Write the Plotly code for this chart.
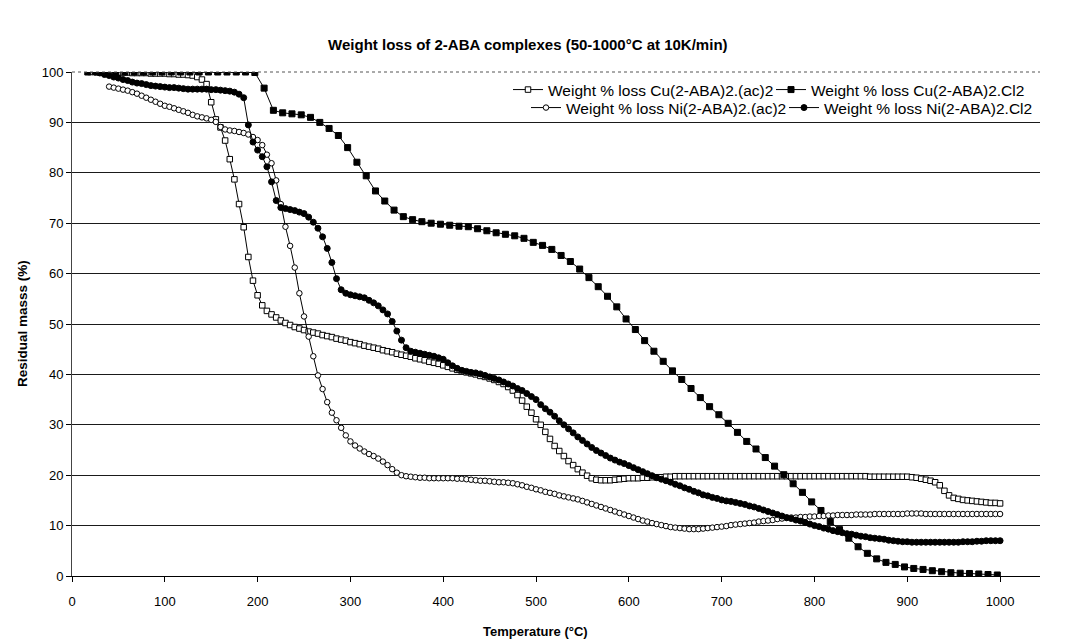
import plotly.graph_objects as go

# Thermogravimetric residual mass (%) of four 2-ABA complexes vs temperature (°C)

cu_ac_T = [
    20, 25, 30, 35, 40, 45, 50, 55, 60, 65,
    70, 75, 80, 85, 90, 95, 100, 105, 110, 115,
    120, 125, 130, 135, 140, 145, 150, 155, 160, 165,
    170, 175, 180, 185, 190, 195, 200, 205, 210, 215,
    220, 225, 230, 235, 240, 245, 250, 255, 260, 265,
    270, 275, 280, 285, 290, 295, 300, 305, 310, 315,
    320, 325, 330, 335, 340, 345, 350, 355, 360, 365,
    370, 375, 380, 385, 390, 395, 400, 405, 410, 415,
    420, 425, 430, 435, 440, 445, 450, 455, 460, 465,
    470, 475, 480, 485, 490, 495, 500, 505, 510, 515,
    520, 525, 530, 535, 540, 545, 550, 555, 560, 565,
    570, 575, 580, 585, 590, 595, 600, 605, 610, 615,
    620, 625, 630, 635, 640, 645, 650, 655, 660, 665,
    670, 675, 680, 685, 690, 695, 700, 705, 710, 715,
    720, 725, 730, 735, 740, 745, 750, 755, 760, 765,
    770, 775, 780, 785, 790, 795, 800, 805, 810, 815,
    820, 825, 830, 835, 840, 845, 850, 855, 860, 865,
    870, 875, 880, 885, 890, 895, 900, 905, 910, 915,
    920, 925, 930, 935, 940, 945, 950, 955, 960, 965,
    970, 975, 980, 985, 990, 995, 1000,
]
cu_ac_mass = [
    100.0, 100.0, 100.0, 100.0, 100.0, 99.9, 99.9, 99.9, 99.9, 99.8,
    99.8, 99.8, 99.8, 99.7, 99.7, 99.7, 99.7, 99.6, 99.6, 99.5,
    99.5, 99.4, 99.3, 99.0, 98.5, 97.6, 94.0, 90.6, 89.0, 86.4,
    82.7, 78.7, 73.8, 69.2, 63.3, 58.6, 55.7, 53.7, 52.6, 51.9,
    51.3, 50.7, 50.2, 49.8, 49.4, 49.1, 48.8, 48.5, 48.3, 48.1,
    47.8, 47.6, 47.4, 47.1, 46.9, 46.7, 46.4, 46.2, 46.0, 45.7,
    45.5, 45.3, 45.1, 44.8, 44.6, 44.4, 44.1, 43.9, 43.7, 43.5,
    43.2, 43.0, 42.8, 42.5, 42.3, 42.1, 41.8, 41.5, 41.2, 40.9,
    40.6, 40.4, 40.2, 40.0, 39.7, 39.5, 39.2, 38.9, 38.5, 38.1,
    37.5, 36.8, 35.9, 34.8, 33.6, 32.4, 31.1, 30.0, 28.6, 27.2,
    25.8, 24.8, 23.8, 22.8, 22.0, 21.2, 20.5, 19.9, 19.4, 19.1,
    19.0, 19.0, 19.0, 19.1, 19.2, 19.3, 19.4, 19.4, 19.4, 19.5,
    19.5, 19.6, 19.6, 19.6, 19.7, 19.7, 19.8, 19.8, 19.8, 19.8,
    19.8, 19.8, 19.8, 19.8, 19.8, 19.8, 19.8, 19.8, 19.8, 19.8,
    19.8, 19.8, 19.8, 19.8, 19.8, 19.8, 19.8, 19.8, 19.8, 19.8,
    19.8, 19.8, 19.8, 19.8, 19.8, 19.8, 19.8, 19.8, 19.8, 19.8,
    19.8, 19.8, 19.8, 19.8, 19.8, 19.8, 19.8, 19.8, 19.7, 19.7,
    19.7, 19.7, 19.7, 19.7, 19.7, 19.7, 19.7, 19.6, 19.5, 19.3,
    19.1, 18.9, 18.6, 18.0, 16.9, 16.0, 15.5, 15.3, 15.1, 15.0,
    14.9, 14.8, 14.7, 14.6, 14.5, 14.5, 14.4,
]

cu_cl_T = [
    17, 27, 37, 47, 57, 67, 77, 87, 97, 107,
    117, 127, 137, 147, 157, 167, 177, 187, 197, 207,
    217, 227, 237, 247, 257, 267, 277, 287, 297, 307,
    317, 327, 337, 347, 357, 367, 377, 387, 397, 407,
    417, 427, 437, 447, 457, 467, 477, 487, 497, 507,
    517, 527, 537, 547, 557, 567, 577, 587, 597, 607,
    617, 627, 637, 647, 657, 667, 677, 687, 697, 707,
    717, 727, 737, 747, 757, 767, 777, 787, 797, 807,
    817, 827, 837, 847, 857, 867, 877, 887, 897, 907,
    917, 927, 937, 947, 957, 967, 977, 987, 997,
]
cu_cl_mass = [
    100.0, 100.0, 100.0, 100.0, 100.0, 100.0, 100.0, 100.0, 100.0, 100.0,
    100.0, 100.0, 100.0, 100.0, 100.0, 100.0, 100.0, 100.0, 99.9, 96.8,
    92.4, 91.9, 91.7, 91.5, 91.0, 90.0, 88.8, 87.4, 85.0, 82.1,
    79.4, 76.4, 74.4, 72.6, 71.3, 70.7, 70.3, 70.0, 69.8, 69.6,
    69.4, 69.3, 68.9, 68.5, 68.1, 67.8, 67.5, 67.0, 66.2, 65.6,
    64.8, 63.6, 62.4, 60.9, 59.2, 57.4, 55.5, 53.4, 51.0, 48.9,
    46.7, 44.6, 42.6, 40.7, 39.0, 37.2, 35.4, 33.6, 32.0, 30.3,
    28.5, 26.7, 25.2, 23.5, 21.8, 20.1, 18.3, 16.6, 14.7, 13.0,
    10.8, 9.2, 7.5, 5.8, 4.5, 3.4, 2.7, 2.3, 1.8, 1.5,
    1.3, 1.05, 0.85, 0.65, 0.55, 0.5, 0.4, 0.3, 0.2,
]

ni_ac_T = [
    40, 45, 50, 55, 60, 65, 70, 75, 80, 85,
    90, 95, 100, 105, 110, 115, 120, 125, 130, 135,
    140, 145, 150, 155, 160, 165, 170, 175, 180, 185,
    190, 195, 200, 205, 210, 215, 220, 225, 230, 235,
    240, 245, 250, 255, 260, 265, 270, 275, 280, 285,
    290, 295, 300, 305, 310, 315, 320, 325, 330, 335,
    340, 345, 350, 355, 360, 365, 370, 375, 380, 385,
    390, 395, 400, 405, 410, 415, 420, 425, 430, 435,
    440, 445, 450, 455, 460, 465, 470, 475, 480, 485,
    490, 495, 500, 505, 510, 515, 520, 525, 530, 535,
    540, 545, 550, 555, 560, 565, 570, 575, 580, 585,
    590, 595, 600, 605, 610, 615, 620, 625, 630, 635,
    640, 645, 650, 655, 660, 665, 670, 675, 680, 685,
    690, 695, 700, 705, 710, 715, 720, 725, 730, 735,
    740, 745, 750, 755, 760, 765, 770, 775, 780, 785,
    790, 795, 800, 805, 810, 815, 820, 825, 830, 835,
    840, 845, 850, 855, 860, 865, 870, 875, 880, 885,
    890, 895, 900, 905, 910, 915, 920, 925, 930, 935,
    940, 945, 950, 955, 960, 965, 970, 975, 980, 985,
    990, 995, 1000,
]
ni_ac_mass = [
    97.1, 96.9, 96.7, 96.5, 96.3, 96.0, 95.7, 95.3, 94.9, 94.5,
    94.1, 93.7, 93.3, 93.1, 92.8, 92.5, 92.2, 91.9, 91.5, 91.2,
    91.0, 90.8, 90.5, 90.1, 89.1, 88.6, 88.4, 88.3, 88.1, 87.9,
    87.6, 87.1, 86.5, 85.5, 83.6, 81.9, 78.5, 73.8, 69.3, 65.5,
    61.2, 56.1, 51.5, 47.5, 43.6, 39.8, 37.1, 34.5, 32.4, 30.9,
    29.4, 27.9, 26.7, 25.9, 25.3, 24.7, 24.2, 23.8, 23.3, 22.7,
    22.0, 21.2, 20.5, 20.0, 19.8, 19.7, 19.6, 19.5, 19.5, 19.4,
    19.4, 19.4, 19.4, 19.4, 19.4, 19.3, 19.3, 19.2, 19.1, 19.0,
    18.9, 18.9, 18.8, 18.7, 18.6, 18.6, 18.5, 18.4, 18.2, 18.0,
    17.7, 17.5, 17.2, 17.0, 16.7, 16.5, 16.3, 16.0, 15.8, 15.6,
    15.4, 15.2, 14.9, 14.6, 14.3, 14.0, 13.7, 13.4, 13.1, 12.8,
    12.5, 12.2, 11.9, 11.6, 11.3, 11.0, 10.8, 10.5, 10.3, 10.1,
    9.9, 9.7, 9.6, 9.5, 9.4, 9.3, 9.3, 9.3, 9.4, 9.5,
    9.6, 9.7, 9.8, 9.9, 10.1, 10.2, 10.3, 10.4, 10.5, 10.6,
    10.8, 10.9, 11.0, 11.1, 11.3, 11.4, 11.5, 11.6, 11.6, 11.7,
    11.7, 11.8, 11.8, 11.9, 11.9, 12.0, 12.0, 12.1, 12.1, 12.1,
    12.1, 12.2, 12.2, 12.2, 12.2, 12.3, 12.3, 12.3, 12.3, 12.3,
    12.3, 12.3, 12.4, 12.4, 12.4, 12.4, 12.3, 12.3, 12.3, 12.3,
    12.3, 12.3, 12.3, 12.3, 12.3, 12.3, 12.3, 12.3, 12.3, 12.3,
    12.3, 12.3, 12.3,
]

ni_cl_T = [
    25, 30, 35, 40, 45, 50, 55, 60, 65, 70,
    75, 80, 85, 90, 95, 100, 105, 110, 115, 120,
    125, 130, 135, 140, 145, 150, 155, 160, 165, 170,
    175, 180, 185, 190, 195, 200, 205, 210, 215, 220,
    225, 230, 235, 240, 245, 250, 255, 260, 265, 270,
    275, 280, 285, 290, 295, 300, 305, 310, 315, 320,
    325, 330, 335, 340, 345, 350, 355, 360, 365, 370,
    375, 380, 385, 390, 395, 400, 405, 410, 415, 420,
    425, 430, 435, 440, 445, 450, 455, 460, 465, 470,
    475, 480, 485, 490, 495, 500, 505, 510, 515, 520,
    525, 530, 535, 540, 545, 550, 555, 560, 565, 570,
    575, 580, 585, 590, 595, 600, 605, 610, 615, 620,
    625, 630, 635, 640, 645, 650, 655, 660, 665, 670,
    675, 680, 685, 690, 695, 700, 705, 710, 715, 720,
    725, 730, 735, 740, 745, 750, 755, 760, 765, 770,
    775, 780, 785, 790, 795, 800, 805, 810, 815, 820,
    825, 830, 835, 840, 845, 850, 855, 860, 865, 870,
    875, 880, 885, 890, 895, 900, 905, 910, 915, 920,
    925, 930, 935, 940, 945, 950, 955, 960, 965, 970,
    975, 980, 985, 990, 995, 1000,
]
ni_cl_mass = [
    100.0, 99.8, 99.5, 99.3, 99.0, 98.8, 98.5, 98.3, 98.0, 97.8,
    97.7, 97.5, 97.3, 97.2, 97.1, 97.0, 96.9, 96.9, 96.8, 96.7,
    96.6, 96.6, 96.6, 96.6, 96.6, 96.5, 96.5, 96.4, 96.3, 96.2,
    96.0, 95.6, 94.9, 89.5, 86.1, 84.5, 83.2, 81.2, 78.2, 74.5,
    73.1, 72.9, 72.7, 72.5, 72.2, 71.9, 71.2, 70.2, 69.0, 67.3,
    65.0, 62.2, 59.0, 56.8, 56.1, 55.8, 55.6, 55.4, 55.2, 54.7,
    54.2, 53.6, 52.8, 52.0, 50.5, 48.6, 46.8, 45.3, 44.6, 44.4,
    44.2, 44.0, 43.8, 43.6, 43.3, 43.0, 42.3, 41.7, 41.2, 40.8,
    40.6, 40.4, 40.3, 40.1, 39.8, 39.5, 39.2, 38.9, 38.5, 38.1,
    37.7, 37.2, 36.8, 36.2, 35.6, 35.0, 34.0, 33.2, 32.5, 31.7,
    30.8, 30.0, 29.2, 28.4, 27.6, 26.9, 26.2, 25.5, 24.9, 24.4,
    23.9, 23.4, 23.0, 22.6, 22.3, 21.9, 21.5, 21.1, 20.7, 20.3,
    19.9, 19.5, 19.2, 18.9, 18.6, 18.2, 17.9, 17.5, 17.2, 16.8,
    16.5, 16.1, 15.9, 15.6, 15.4, 15.1, 14.9, 14.8, 14.6, 14.4,
    14.2, 13.9, 13.7, 13.4, 13.1, 12.8, 12.5, 12.2, 11.9, 11.6,
    11.4, 11.1, 10.9, 10.6, 10.3, 10.0, 9.8, 9.5, 9.3, 9.0,
    8.8, 8.6, 8.4, 8.3, 8.1, 7.9, 7.8, 7.6, 7.5, 7.4,
    7.3, 7.1, 7.0, 6.9, 6.8, 6.8, 6.7, 6.7, 6.7, 6.7,
    6.7, 6.7, 6.7, 6.7, 6.7, 6.7, 6.7, 6.8, 6.8, 6.8,
    6.9, 6.9, 7.0, 7.0, 7.0, 7.0,
]

x_ticks = [0, 100, 200, 300, 400, 500, 600, 700, 800, 900, 1000]
y_ticks = [0, 10, 20, 30, 40, 50, 60, 70, 80, 90, 100]

FONT = "Liberation Sans, Arial, Helvetica, sans-serif"
INK = "#000000"

# plot area in pixels: left 72, right 1040, top 72, bottom 576
X_MAX = 1043

fig = go.Figure()


def add_series(name, xs, ys, symbol, fill, size, legend):
    fig.add_trace(go.Scatter(
        x=xs, y=ys, name=name, mode="lines+markers",
        line=dict(color=INK, width=1),
        marker=dict(symbol=symbol, size=size, color=fill,
                    line=dict(color=INK, width=1)),
        legend=legend,
    ))


add_series("Weight % loss Cu(2-ABA)2.(ac)2", cu_ac_T, cu_ac_mass, "square", "white", 5.5, "legend")
add_series("Weight % loss Cu(2-ABA)2.Cl2", cu_cl_T, cu_cl_mass, "square", INK, 6, "legend2")
add_series("Weight % loss Ni(2-ABA)2.(ac)2", ni_ac_T, ni_ac_mass, "circle", "white", 5.5, "legend3")
add_series("Weight % loss Ni(2-ABA)2.Cl2", ni_cl_T, ni_cl_mass, "circle", INK, 6, "legend4")


def legend_at(left_px, row_px):
    return dict(
        x=(left_px - 72) / 968, y=(576 - row_px) / 504,
        xanchor="left", yanchor="middle", orientation="v",
        bgcolor="rgba(0,0,0,0)", borderwidth=0,
        font=dict(family=FONT, size=15.5, color=INK),
        itemclick=False, itemdoubleclick=False,
    )


fig.update_layout(
    width=1075, height=639,
    margin=dict(l=72, r=35, t=72, b=63),
    paper_bgcolor="white", plot_bgcolor="white",
    font=dict(family=FONT, size=13, color=INK),
    showlegend=True,
    legend=legend_at(508, 90),
    legend2=legend_at(771, 90),
    legend3=legend_at(526, 108),
    legend4=legend_at(784, 108),
    title=dict(
        text="<b>Weight loss of 2-ABA complexes (50-1000°C at 10K/min)</b>",
        x=0.491, xref="container", xanchor="center",
        y=1 - 45 / 639, yref="container", yanchor="middle",
        font=dict(family=FONT, size=15, color=INK),
    ),
    xaxis=dict(
        range=[0, X_MAX], tickvals=x_ticks, ticktext=[str(v) for v in x_ticks],
        ticks="outside", ticklen=5, tickcolor=INK, tickwidth=1,
        ticklabelstandoff=8,
        showline=True, linecolor=INK, linewidth=1,
        showgrid=False, zeroline=False,
        tickfont=dict(family=FONT, size=13, color=INK),
    ),
    yaxis=dict(
        range=[0, 100], tickvals=y_ticks, ticktext=[str(v) for v in y_ticks],
        ticks="outside", ticklen=5, tickcolor=INK, tickwidth=1,
        showline=True, linecolor="#444444", linewidth=1,
        showgrid=True, gridcolor="#1a1a1a", gridwidth=1,
        zeroline=False,
        tickfont=dict(family=FONT, size=13, color=INK),
    ),
    annotations=[
        dict(text="<b>Residual masss (%)</b>", xref="paper", yref="paper",
             x=(22 - 72) / 968, y=0.5, textangle=-90, showarrow=False,
             xanchor="center", yanchor="middle",
             font=dict(family=FONT, size=13.5, color=INK)),
        dict(text="<b>Temperature (°C)</b>", xref="paper", yref="paper",
             x=(535 - 72) / 968, y=(576 - 631) / 504, showarrow=False,
             xanchor="center", yanchor="middle",
             font=dict(family=FONT, size=13, color=INK)),
    ],
    shapes=[
        dict(type="line", xref="x domain", yref="y domain",
             x0=0, x1=1, y0=1, y1=1,
             line=dict(color="#555555", width=1, dash="dot")),
    ],
)

fig.write_html("out.html")
